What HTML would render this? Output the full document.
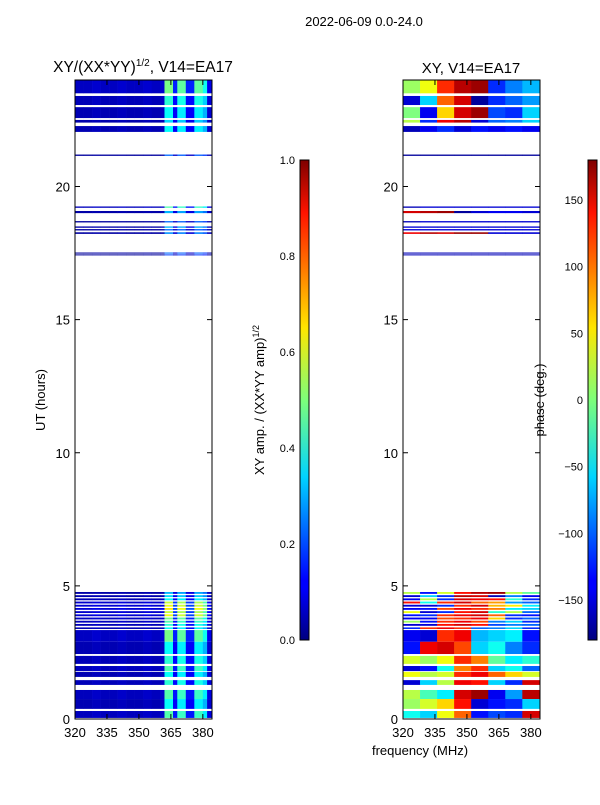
<!DOCTYPE html>
<html><head><meta charset="utf-8">
<style>
body{margin:0;background:#fff;}
svg text{font-family:"Liberation Sans","DejaVu Sans",sans-serif;fill:#000;}
</style></head>
<body>
<svg id="fig" width="600" height="800" viewBox="0 0 600 800" xmlns="http://www.w3.org/2000/svg">
<defs>
<linearGradient id="jet" x1="0" y1="1" x2="0" y2="0">
<stop offset="0" stop-color="#00007f"/><stop offset="0.11" stop-color="#0000ff"/>
<stop offset="0.125" stop-color="#0000ff"/><stop offset="0.34" stop-color="#00d4ff"/>
<stop offset="0.5" stop-color="#7dff7a"/><stop offset="0.65" stop-color="#ffe600"/>
<stop offset="0.89" stop-color="#ff1300"/><stop offset="1" stop-color="#7f0000"/>
</linearGradient>
</defs>
<text x="364" y="26" font-size="13" text-anchor="middle">2022-06-09 0.0-24.0</text>
<text x="143" y="72" font-size="15.5" text-anchor="middle">XY/(XX*YY)<tspan font-size="10" dy="-6">1/2</tspan><tspan dy="6">, V14=EA17</tspan></text>
<text x="471" y="73" font-size="15" text-anchor="middle">XY, V14=EA17</text>
<g id="left"></g>
<g id="right"></g>
<g id="axes"></g>
<text transform="translate(45,400) rotate(-90)" font-size="13" text-anchor="middle">UT (hours)</text>
<text x="420" y="755" font-size="13" text-anchor="middle">frequency (MHz)</text>
<rect x="300" y="160" width="9" height="480" fill="url(#jet)" stroke="#000" stroke-width="1"/>
<rect x="588" y="160" width="9" height="480" fill="url(#jet)" stroke="#000" stroke-width="1"/>
<text transform="translate(264,400) rotate(-90)" font-size="13" text-anchor="middle">XY amp. / (XX*YY amp)<tspan font-size="9" dy="-5">1/2</tspan></text>
<text transform="translate(544,400) rotate(-90)" font-size="13" text-anchor="middle">phase (deg.)</text>
</svg>
<script>
const yTicks=[0,5,10,15,20];
const xTicks=[320,335,350,365,380];
const ampTicks=[0.0,0.2,0.4,0.6,0.8,1.0];
const phaseTicks=[-150,-100,-50,0,50,100,150];
// channel start frequencies (MHz)
const chanFreqs=[320,324,328,332,336,340,344,348,352,356,360,362,366,368,372,376,380,382];
const chanAmp=[0.05,0.05,0.06,0.05,0.05,0.06,0.05,0.05,0.06,0.05,0.06,0.38,0.12,0.36,0.12,0.36,0.3,0.08];
// rows: [UT start, UT end, amplitude scale]
const rowStart=[23.5,23.06,22.57,22.4,22.05,21.15,19.2,19.0,18.65,18.45,18.35,18.22,17.48,17.42,
 4.70,4.58,4.46,4.34,4.22,4.10,3.98,3.86,3.74,3.62,3.50,3.38,2.9,2.44,2.07,1.8,1.58,1.28,0.75,0.38,0.04];
const rowEnd=[24,23.4,22.98,22.5,22.27,21.2,19.25,19.08,18.7,18.5,18.4,18.28,17.52,17.45,
 4.77,4.65,4.53,4.41,4.29,4.17,4.05,3.93,3.81,3.69,3.57,3.44,3.34,2.9,2.37,1.99,1.77,1.46,1.09,0.75,0.3];
const rowScale=[1.3,1.1,1.0,0.9,1.0,0.6,1.2,0.8,0.6,0.8,0.6,0.7,0.6,0.5,
 0.8,0.9,1.0,1.5,1.6,1.7,1.5,1.6,1.3,1.2,1.1,1.0,1.3,1.0,1.1,1.2,1.0,1.1,1.2,1.0,1.2];
// phase per row, 8 blocks of 8 MHz (320..384), degrees
const rowPhase=[
[10,40,120,160,170,-120,-90,-70],[-150,-60,100,150,-170,-120,-100,-80],[0,-140,60,150,170,-110,-120,-60],
[20,-120,140,160,-150,-100,-90,-60],[-160,-140,-120,-150,-130,-140,-130,-140],[-170,-170,-170,-170,-170,-170,-170,-170],
[-160,-150,-150,-150,-150,-150,-150,-150],[150,160,170,-170,-150,-140,-140,-150],[-160,-150,-150,-150,-150,-150,-150,-150],
[-150,-150,-150,-150,-150,-150,-150,-150],[-150,-150,-150,-150,-150,-150,-150,-150],[140,160,150,170,170,-150,-150,-150],
[-160,-160,-160,-160,-160,-160,-160,-160],[-160,-160,-160,-160,-160,-160,-160,-160],
[20,-130,30,130,160,170,20,-10],[-150,-60,-120,160,150,-160,-90,-140],[-140,20,-120,150,140,130,-30,-120],
[130,-40,120,150,100,80,-80,-100],[-150,-150,-120,120,150,70,50,-50],[-140,-130,110,140,120,90,-50,-60],
[40,-150,-120,130,150,-30,20,-100],[-130,-120,120,140,150,100,-120,-130],[-140,-140,110,120,140,60,-120,-100],
[10,-130,120,140,110,-90,-60,-120],[-150,-150,130,150,130,-110,-90,-100],[-120,120,140,120,-100,-90,-60,-120],
[-140,-150,120,140,-70,-60,-50,-130],[-130,140,150,110,-60,-40,-90,-120],[30,10,40,120,90,-10,-50,-30],
[-150,-130,-40,90,120,-60,-40,-100],[40,20,30,120,140,100,60,30],[-150,-60,20,140,130,-60,-120,150],
[20,-20,-50,150,170,-140,-80,160],[10,30,60,130,-150,-130,-120,-60],[-40,-60,40,100,-130,-110,-120,150]];
const S="http://www.w3.org/2000/svg";
const L={x0:75,x1:212},R={x0:403,x1:540},Y0=719,Y1=80;
const fMin=320,fMax=384.3;
function xs(p,f){return p.x0+(f-fMin)/(fMax-fMin)*(p.x1-p.x0);}
function ys(t){return Y0-t/24*(Y0-Y1);}
function jet(v){v=Math.max(0,Math.min(1,v));
 const r=Math.min(4*v-1.5,-4*v+4.5),g=Math.min(4*v-0.5,-4*v+3.5),b=Math.min(4*v+0.5,-4*v+2.5);
 const c=x=>Math.round(255*Math.max(0,Math.min(1,x)));return `rgb(${c(r)},${c(g)},${c(b)})`;}
function mk(tag,attrs,parent){const e=document.createElementNS(S,tag);for(const k in attrs)e.setAttribute(k,attrs[k]);parent.appendChild(e);return e;}
const gl=document.getElementById('left'),gr=document.getElementById('right'),ax=document.getElementById('axes');
for(let i=0;i<rowStart.length;i++){
 const yA=ys(rowEnd[i]),yB=ys(rowStart[i]);
 for(let c=0;c<chanFreqs.length;c++){
  const f0=chanFreqs[c],f1=c+1<chanFreqs.length?chanFreqs[c+1]:fMax;
  const r=mk('rect',{x:xs(L,f0),y:yA,width:xs(L,f1)-xs(L,f0)+0.3,height:Math.max(1,yB-yA),fill:jet(chanAmp[c]*rowScale[i])},gl);
  
  
 }
 const ph=rowPhase[i];
 for(let b=0;b<ph.length;b++){
  const f0=fMin+b*8,f1=Math.min(fMax,f0+8);
  const r=mk('rect',{x:xs(R,f0),y:yA,width:xs(R,f1)-xs(R,f0)+0.3,height:Math.max(1,yB-yA),fill:jet((ph[b]+180)/360)},gr);
  
  
 }
}
for(const P of [L,R]){
 const fr=mk('rect',{x:P.x0,y:Y1,width:P.x1-P.x0,height:Y0-Y1,fill:'none',stroke:'#000','stroke-width':1},ax);
 
 
 yTicks.forEach(t=>{const y=ys(t);
  mk('line',{x1:P.x0,x2:P.x0+5,y1:y,y2:y,stroke:'#000'},ax);
  mk('line',{x1:P.x1-5,x2:P.x1,y1:y,y2:y,stroke:'#000'},ax);
  const tx=mk('text',{x:P.x0-5,y:y+5,'font-size':13,'text-anchor':'end'},ax);tx.textContent=t;
  
  });
 xTicks.forEach(f=>{const x=xs(P,f);
  mk('line',{x1:x,x2:x,y1:Y0,y2:Y0-5,stroke:'#000'},ax);
  mk('line',{x1:x,x2:x,y1:Y1,y2:Y1+5,stroke:'#000'},ax);
  const tx=mk('text',{x:x,y:Y0+18,'font-size':13,'text-anchor':'middle'},ax);tx.textContent=f;
  
  });
}
ampTicks.forEach(v=>{const y=640-v*480;
 mk('line',{x1:300,x2:304,y1:y,y2:y,stroke:'#000'},ax);
 const tx=mk('text',{x:295,y:y+4,'font-size':11,'text-anchor':'end'},ax);tx.textContent=v.toFixed(1);
 
 });
phaseTicks.forEach(v=>{const y=400-v/180*240;
 mk('line',{x1:588,x2:592,y1:y,y2:y,stroke:'#000'},ax);
 const tx=mk('text',{x:583,y:y+4,'font-size':11,'text-anchor':'end'},ax);tx.textContent=(v<0?'\u2212'+(-v):v);
 
 });
</script>
</body></html>
